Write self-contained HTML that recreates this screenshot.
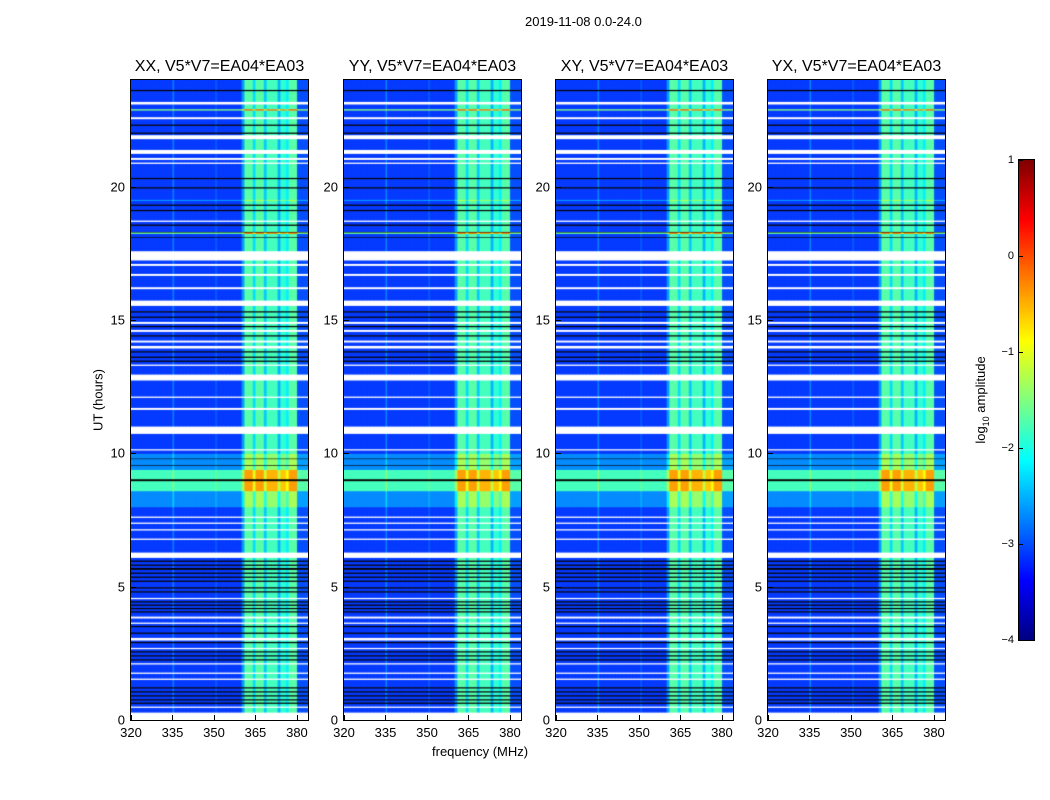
<!DOCTYPE html>
<html><head><meta charset="utf-8"><style>
body{margin:0;background:#fff;width:1050px;height:800px;overflow:hidden;font-family:"Liberation Sans",sans-serif;}
#wrap{position:relative;width:1050px;height:800px;}
.t{position:absolute;font-size:13px;color:#000;white-space:nowrap;}
canvas{position:absolute;}
.frame{position:absolute;border:1px solid #000;box-sizing:border-box;}
.tick{position:absolute;background:#000;}
</style></head><body>
<div id="wrap">
<div class="t" style="left:525px;top:14px;font-size:13px">2019-11-08 0.0-24.0</div>
<div class="t" style="left:98px;top:400px;transform:translate(-50%,-50%) rotate(-90deg)">UT (hours)</div>
<div class="t" style="left:432px;top:744px">frequency (MHz)</div>
<div class="t" style="left:982px;top:400px;transform:translate(-50%,-50%) rotate(-90deg)">log<sub style="font-size:9px">10</sub> amplitude</div>
</div>
<script>
// ---- data ----
const panelTitles = ["XX, V5*V7=EA04*EA03","YY, V5*V7=EA04*EA03","XY, V5*V7=EA04*EA03","YX, V5*V7=EA04*EA03"];
const xTicks = [320,335,350,365,380];
const yTicks = [0,5,10,15,20];
const cbTicks = [-4,-3,-2,-1,0,1];
const freqStart = 320, freqEnd = 384, tStart = 0, tEnd = 24;
const backgroundLevel = -3.1;
// frequency band levels [fromMHz, toMHz, level]
const bandLevels = [[360,361,-2.6],[361,364,-1.7],[364,365,-2.3],[365,368,-1.7],[368,369,-2.4],[369,373,-1.8],[373,374,-2.5],[374,376,-1.9],[376,377,-2.2],[377,380,-1.7],[380,384,-3.0],[335,335.5,-2.7],[350.5,351,-2.9]];
// flagged (white) time ranges, hours
const whiteRows = [[23.1,23.2],[22.55,22.62],[21.8,21.95],[21.25,21.4],[21.03,21.1],[20.87,20.93],[18.7,18.76],[17.25,17.6],[17.05,17.12],[16.68,16.74],[16.18,16.24],[15.55,15.75],[14.88,14.94],[14.58,14.64],[14.18,14.24],[13.95,14.05],[13.3,13.35],[12.75,12.98],[12.1,12.15],[11.66,11.72],[10.75,11.03],[10.12,10.18],[7.6,7.65],[7.38,7.43],[7.13,7.18],[6.78,6.83],[6.1,6.3],[4.54,4.6],[3.83,3.89],[3.62,3.68],[3.0,3.1],[2.67,2.73],[2.1,2.16],[1.74,1.8],[1.52,1.58],[0.47,0.53],[0,0.3]];
// zero-data (black) time ranges
const blackRows = [[23.6,23.65],[22.3,22.35],[22.0,22.05],[20.3,20.35],[19.95,20.0],[19.3,19.35],[19.1,19.15],[18.55,18.6],[18.3,18.33],[18.1,18.13],[17.45,17.5],[15.3,15.35],[15.1,15.15],[14.75,14.8],[14.4,14.45],[13.8,13.85],[13.6,13.65],[13.45,13.5],[9.8,9.83],[9.55,9.58],[8.98,9.04],[5.95,6.0],[5.8,5.85],[5.65,5.72],[5.5,5.56],[5.35,5.4],[5.2,5.25],[4.95,5.0],[4.8,4.84],[4.42,4.48],[4.3,4.34],[4.18,4.22],[4.05,4.1],[3.5,3.55],[3.25,3.3],[2.9,2.95],[2.55,2.6],[2.4,2.45],[2.25,2.3],[1.2,1.25],[1.05,1.1],[0.9,0.95],[0.75,0.8],[0.62,0.67]];
// time ranges with raised level [from,to,offset]
const brightRows = [[8.6,9.4,1.3],[8.0,8.6,0.4],[9.4,10.0,0.4],[22.88,22.93,1.6],[18.25,18.3,1.5],[19.5,19.53,0.8]];

const wrap = document.getElementById('wrap');
const panelX = [131,344,556,768], pTop=80, pW=177, pH=640;
function xPix(f){return (f-freqStart)/(freqEnd-freqStart)*pW;}
function yPix(h){return pH-(h-tStart)/(tEnd-tStart)*pH;}
function jet(v){ // v in -4..1
  let t=(v+4)/5; t=Math.max(0,Math.min(1,t));
  const c=x=>Math.max(0,Math.min(1,x));
  const r=c(1.5-Math.abs(4*t-3)), g=c(1.5-Math.abs(4*t-2)), b=c(1.5-Math.abs(4*t-1));
  return `rgb(${Math.round(r*255)},${Math.round(g*255)},${Math.round(b*255)})`;
}
function colLevel(f){let l=backgroundLevel;for(const b of bandLevels){if(f>=b[0]&&f<b[1])l=b[2];}return l;}
function inRanges(h,arr){for(const r of arr){if(h>=r[0]&&h<r[1])return r;}return null;}

panelTitles.forEach((title,p)=>{
  const x0=panelX[p];
  const cv=document.createElement('canvas');
  cv.width=pW;cv.height=pH;cv.style.left=x0+'px';cv.style.top=pTop+'px';
  
  
  wrap.appendChild(cv);
  const ctx=cv.getContext('2d');
  const dt=0.025, df=0.5;
  for(let h=tStart;h<tEnd;h+=dt){
    const hm=h+dt/2;
    const y1=yPix(h+dt), y2=yPix(h);
    if(inRanges(hm,whiteRows)){ctx.fillStyle='#fff';ctx.fillRect(0,y1,pW,y2-y1+0.5);continue;}
    if(inRanges(hm,blackRows)){ctx.fillStyle='#000';ctx.fillRect(0,y1,pW,y2-y1+0.5);continue;}
    const br=inRanges(hm,brightRows); const off=br?br[2]:0;
    for(let f=freqStart;f<freqEnd;f+=df){
      ctx.fillStyle=jet(colLevel(f+df/2)+off);
      ctx.fillRect(xPix(f),y1,xPix(f+df)-xPix(f)+0.5,y2-y1+0.5);
    }
  }
  const fr=document.createElement('div');fr.className='frame';
  fr.style.cssText=`left:${x0-1}px;top:${pTop-1}px;width:${pW+2}px;height:${pH+2}px`;
  
  
  wrap.appendChild(fr);
  const tt=document.createElement('div');tt.className='t';tt.textContent=title;
  tt.style.cssText=`left:${x0+pW/2}px;top:58px;font-size:16px;transform:translateX(-50%)`;
  
  
  wrap.appendChild(tt);
  xTicks.forEach(v=>{
    const px=x0+xPix(v);
    const tk=document.createElement('div');tk.className='tick';
    tk.style.cssText=`left:${px}px;top:${pTop+pH-5}px;width:1px;height:5px`;
    
    
    wrap.appendChild(tk);
    const lb=document.createElement('div');lb.className='t';lb.textContent=v;
    lb.style.cssText=`left:${px}px;top:${pTop+pH+5}px;transform:translateX(-50%)`;
    
    
    wrap.appendChild(lb);
  });
  yTicks.forEach(v=>{
    const py=pTop+yPix(v);
    const tk=document.createElement('div');tk.className='tick';
    tk.style.cssText=`left:${x0}px;top:${py}px;width:5px;height:1px`;
    
    
    wrap.appendChild(tk);
    const lb=document.createElement('div');lb.className='t';lb.textContent=v;
    lb.style.cssText=`left:${x0-6}px;top:${py}px;transform:translate(-100%,-50%)`;
    
    
    wrap.appendChild(lb);
  });
});

// colorbar
const cbX=1019,cbTop=160,cbH=480,cbW=15;
const cb=document.createElement('canvas');cb.width=cbW;cb.height=cbH;
cb.style.left=cbX+'px';cb.style.top=cbTop+'px';


wrap.appendChild(cb);
const cctx=cb.getContext('2d');
for(let i=0;i<cbH;i++){cctx.fillStyle=jet(1-5*i/cbH);cctx.fillRect(0,i,cbW,1);}
const cbf=document.createElement('div');cbf.className='frame';
cbf.style.cssText=`left:${cbX-1}px;top:${cbTop-1}px;width:${cbW+2}px;height:${cbH+2}px`;


wrap.appendChild(cbf);
cbTicks.forEach(v=>{
  const py=cbTop+(1-v)/5*cbH;
  const lb=document.createElement('div');lb.className='t';
  lb.textContent=v<0?'\u2212'+(-v):String(v);
  lb.style.cssText=`left:${cbX-5}px;top:${py}px;font-size:11px;transform:translate(-100%,-50%)`;
  
  
  wrap.appendChild(lb);
  const tk=document.createElement('div');tk.className='tick';
  tk.style.cssText=`left:${cbX}px;top:${py}px;width:4px;height:1px`;
  
  
  wrap.appendChild(tk);
});
</script>
</body></html>
